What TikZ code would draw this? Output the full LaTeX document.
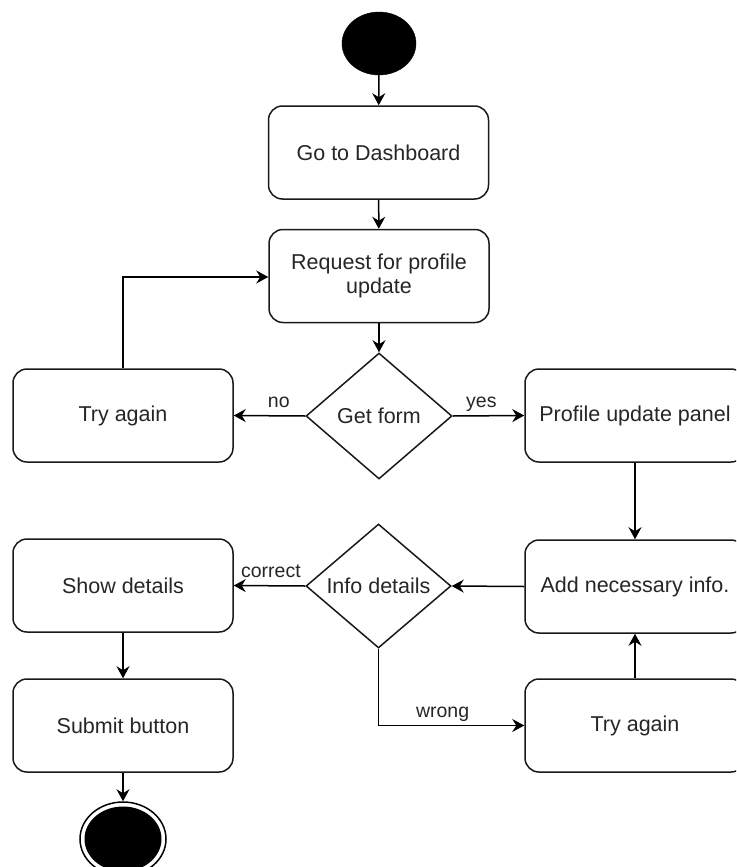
\documentclass[tikz,border=0pt]{standalone}
\usepackage{fontspec}
\setmainfont{Liberation Sans}
\usetikzlibrary{shapes.geometric,arrows.meta}

\tikzset{
  every picture/.style={x=1pt,y=-1pt},
  flow/.style={draw=black,line width=1.5pt,-{Stealth[length=12pt,width=13pt,inset=4pt]}},
  activity/.style={draw=black!90,line width=1.5pt,rounded corners=14pt,fill=white,
    minimum width=220pt,minimum height=93pt,inner sep=0pt,align=center,
    font=\fontsize{21.5}{23.5}\selectfont,text=black!85},
  decision/.style={draw=black!90,line width=1.5pt,diamond,fill=white,inner sep=0pt,
    minimum width=146pt,minimum height=126pt,font=\fontsize{21.5}{23}\selectfont,text=black!85},
  guard/.style={anchor=base,inner sep=0pt,yshift=8pt,font=\fontsize{19.5}{21}\selectfont,text=black!85},
  initial/.style={ellipse,fill=black,draw=black,minimum width=74pt,minimum height=63pt,inner sep=0pt},
}

\begin{document}
\begin{tikzpicture}
\useasboundingbox (0,0) rectangle (736,867);
\clip (0,0) rectangle (736,867);
\fill[white] (0,0) rectangle (736,867);

% start and end states
\node[initial] (start) at (379,43.5) {};
\node[ellipse,draw=black,line width=1.5pt,minimum width=86pt,minimum height=74pt,inner sep=0pt] (final) at (123,839) {};
\node[ellipse,fill=black,minimum width=77pt,minimum height=65pt,inner sep=0pt] (finalcore) at (123,839) {};

% activities
\node[activity] (dash)   at (378.5,152.5) {Go to Dashboard};
\node[activity] (req)    at (379,276)     {Request for profile\\update};
\node[activity] (tryA)   at (123,415.5)   {Try again};
\node[activity] (panel)  at (635,415.5)   {Profile update panel};
\node[activity] (add)    at (635,586.5)   {Add necessary info.};
\node[activity] (show)   at (123,585.5)   {Show details};
\node[activity] (submit) at (123,725.5)   {Submit button};
\node[activity] (tryB)   at (635,725.5)   {Try again};

% decisions
\node[decision] (get)  at (379,416)   {Get form};
\node[decision,minimum width=145pt,minimum height=124pt] (info) at (378.5,586) {Info details};

% transitions
\draw[flow] (start) -- (dash);
\draw[flow] (dash) -- (req);
\draw[flow] (req) -- (get);
\draw[flow] (get.west) -- node[guard,pos=0.37] {no} (tryA.east);
\draw[flow] (get.east) -- node[guard,pos=0.4] {yes} (panel.west);
\draw[flow] (tryA.north) |- ([yshift=-1pt]req.west);
\draw[flow] (panel) -- (add);
\draw[flow] (add.west) -- (info.east);
\draw[flow] (info.west) -- node[guard,pos=0.48] {correct} (show.east);
\draw[flow] (info.south) |- node[guard,pos=0.72] {wrong} (tryB.west);
\draw[flow] (tryB) -- (add);
\draw[flow] (show) -- (submit);
\draw[flow] (submit) -- (final);
\end{tikzpicture}
\end{document}
